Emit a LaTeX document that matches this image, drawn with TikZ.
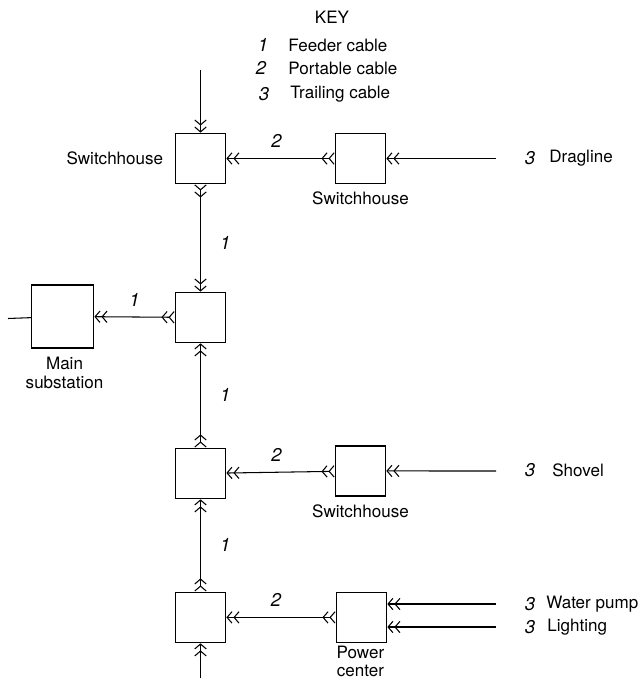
\documentclass[tikz,border=0pt]{standalone}
\usepackage{fontspec}
\setsansfont{TeX Gyre Heros}
\usetikzlibrary{arrows.meta, positioning}
\tikzset{
    barb/.tip={Straight Barb[length=2.8pt,width=6.5pt,sep=0.5pt]},
    station/.style={rectangle, draw=black, line width=0.85pt, fill=white, minimum width=1cm, minimum height=1cm, inner sep=0pt, outer sep=0pt},
    caption/.style={font=\sffamily\fontsize{9.7}{10.6}\selectfont, text=black, inner sep=0pt, align=center},
    cablenum/.style={font=\sffamily\itshape\fontsize{10.5}{11}\selectfont, text=black, inner sep=0pt},
    feeder/.style={line width=0.6pt, {barb[reversed] barb[reversed]}-{barb[] barb[]}},
    trailing/.style={line width=0.6pt, -{barb[] barb[]}}
}
\begin{document}
\begin{tikzpicture}[x=0.02cm, y=-0.02cm, node distance=1cm]
    \useasboundingbox (0,0) rectangle (641,678);

    % key
    \node (keytitle) [caption] at (332,17) {KEY};
    \node (keyone) [cablenum] at (263,45) {1};
    \node (keytwo) [cablenum] at (261,68) {2};
    \node (keythree) [cablenum] at (264,94) {3};
    \node (feedertext) [caption, anchor=west] at (288,45) {Feeder cable};
    \node (portabletext) [caption, anchor=west] at (288,68) {Portable cable};
    \node (trailingtext) [caption, anchor=west] at (290,94) {Trailing cable};

    % main column
    \node (top) [station] at (200.5,158.5) {};
    \node (middle) [station, below=2.18cm of top] {};
    \node (lower) [station, below=2.12cm of middle] {};
    \node (bottom) [station, below=1.88cm of lower] {};
    \node (mainsub) [station, left=1.64cm of middle, minimum width=1.24cm, minimum height=1.26cm, yshift=0.02cm] {};

    % right column
    \node (switchone) [station, right=2.2cm of top] {};
    \node (switchtwo) [station, right=2.2cm of lower, yshift=0.05cm] {};
    \node (power) [station, right=2.22cm of bottom] {};

    % captions
    \node (toptext) [caption, left=0.24cm of top] {Switchhouse};
    \node (switchonetext) [caption, below=0.16cm of switchone] {Switchhouse};
    \node (switchtwotext) [caption, below=0.16cm of switchtwo] {Switchhouse};
    \node (mainsubtext) [caption, below=0.18cm of mainsub, xshift=0.04cm] {Main\\substation};
    \node (powertext) [caption, below=0.06cm of power, xshift=-0.02cm] {Power\\center};

    % loads
    \node (dragnum) [cablenum] at (530,158) {3};
    \node (dragtext) [caption, anchor=west] at (549,158) {Dragline};
    \node (shovelnum) [cablenum] at (530,470) {3};
    \node (shoveltext) [caption, anchor=west] at (552,470) {Shovel};
    \node (pumpnum) [cablenum] at (530,604) {3};
    \node (pumptext) [caption, anchor=west] at (546,604) {Water pump};
    \node (lightnum) [cablenum] at (530,627) {3};
    \node (lighttext) [caption, anchor=west] at (547,627) {Lighting};

    \coordinate (topfree) at (200.5,70);
    \coordinate (bottomfree) at (200.5,678);
    \coordinate (linefree) at (8,318.5);
    \coordinate (dragfree) at (496,158.5);
    \coordinate (shovelfree) at (496,471);
    \coordinate (pumpfree) at (496,604);
    \coordinate (lightfree) at (496,627);

    \draw [feeder] (top) -- node [cablenum, right=0.38cm, yshift=-0.1cm] {1} (middle);
    \draw [feeder] (lower) -- node [cablenum, right=0.38cm] {1} (middle);
    \draw [feeder] (bottom) -- node [cablenum, right=0.38cm] {1} (lower);
    \draw [feeder] (middle) -- node [cablenum, above=0.2cm] {1} (mainsub);
    \draw [feeder] (switchone) -- node [cablenum, above=0.2cm, xshift=-0.08cm] {2} (top);
    \draw [feeder] (switchtwo) -- node [cablenum, above=0.2cm, xshift=-0.08cm] {2} (lower);
    \draw [feeder] (power) -- node [cablenum, above=0.2cm, xshift=-0.1cm] {2} (bottom);

    \draw [trailing] (topfree) -- (top);
    \draw [trailing] (bottomfree) -- (bottom);
    \draw [trailing] (dragfree) -- (switchone);
    \draw [trailing] (shovelfree) -- (switchtwo);
    \draw [trailing] (pumpfree) -- (pumpfree -| power.east);
    \draw [trailing] (lightfree) -- (lightfree -| power.east);
    \draw [line width=0.6pt] (linefree) -- (mainsub);
\end{tikzpicture}
\end{document}
